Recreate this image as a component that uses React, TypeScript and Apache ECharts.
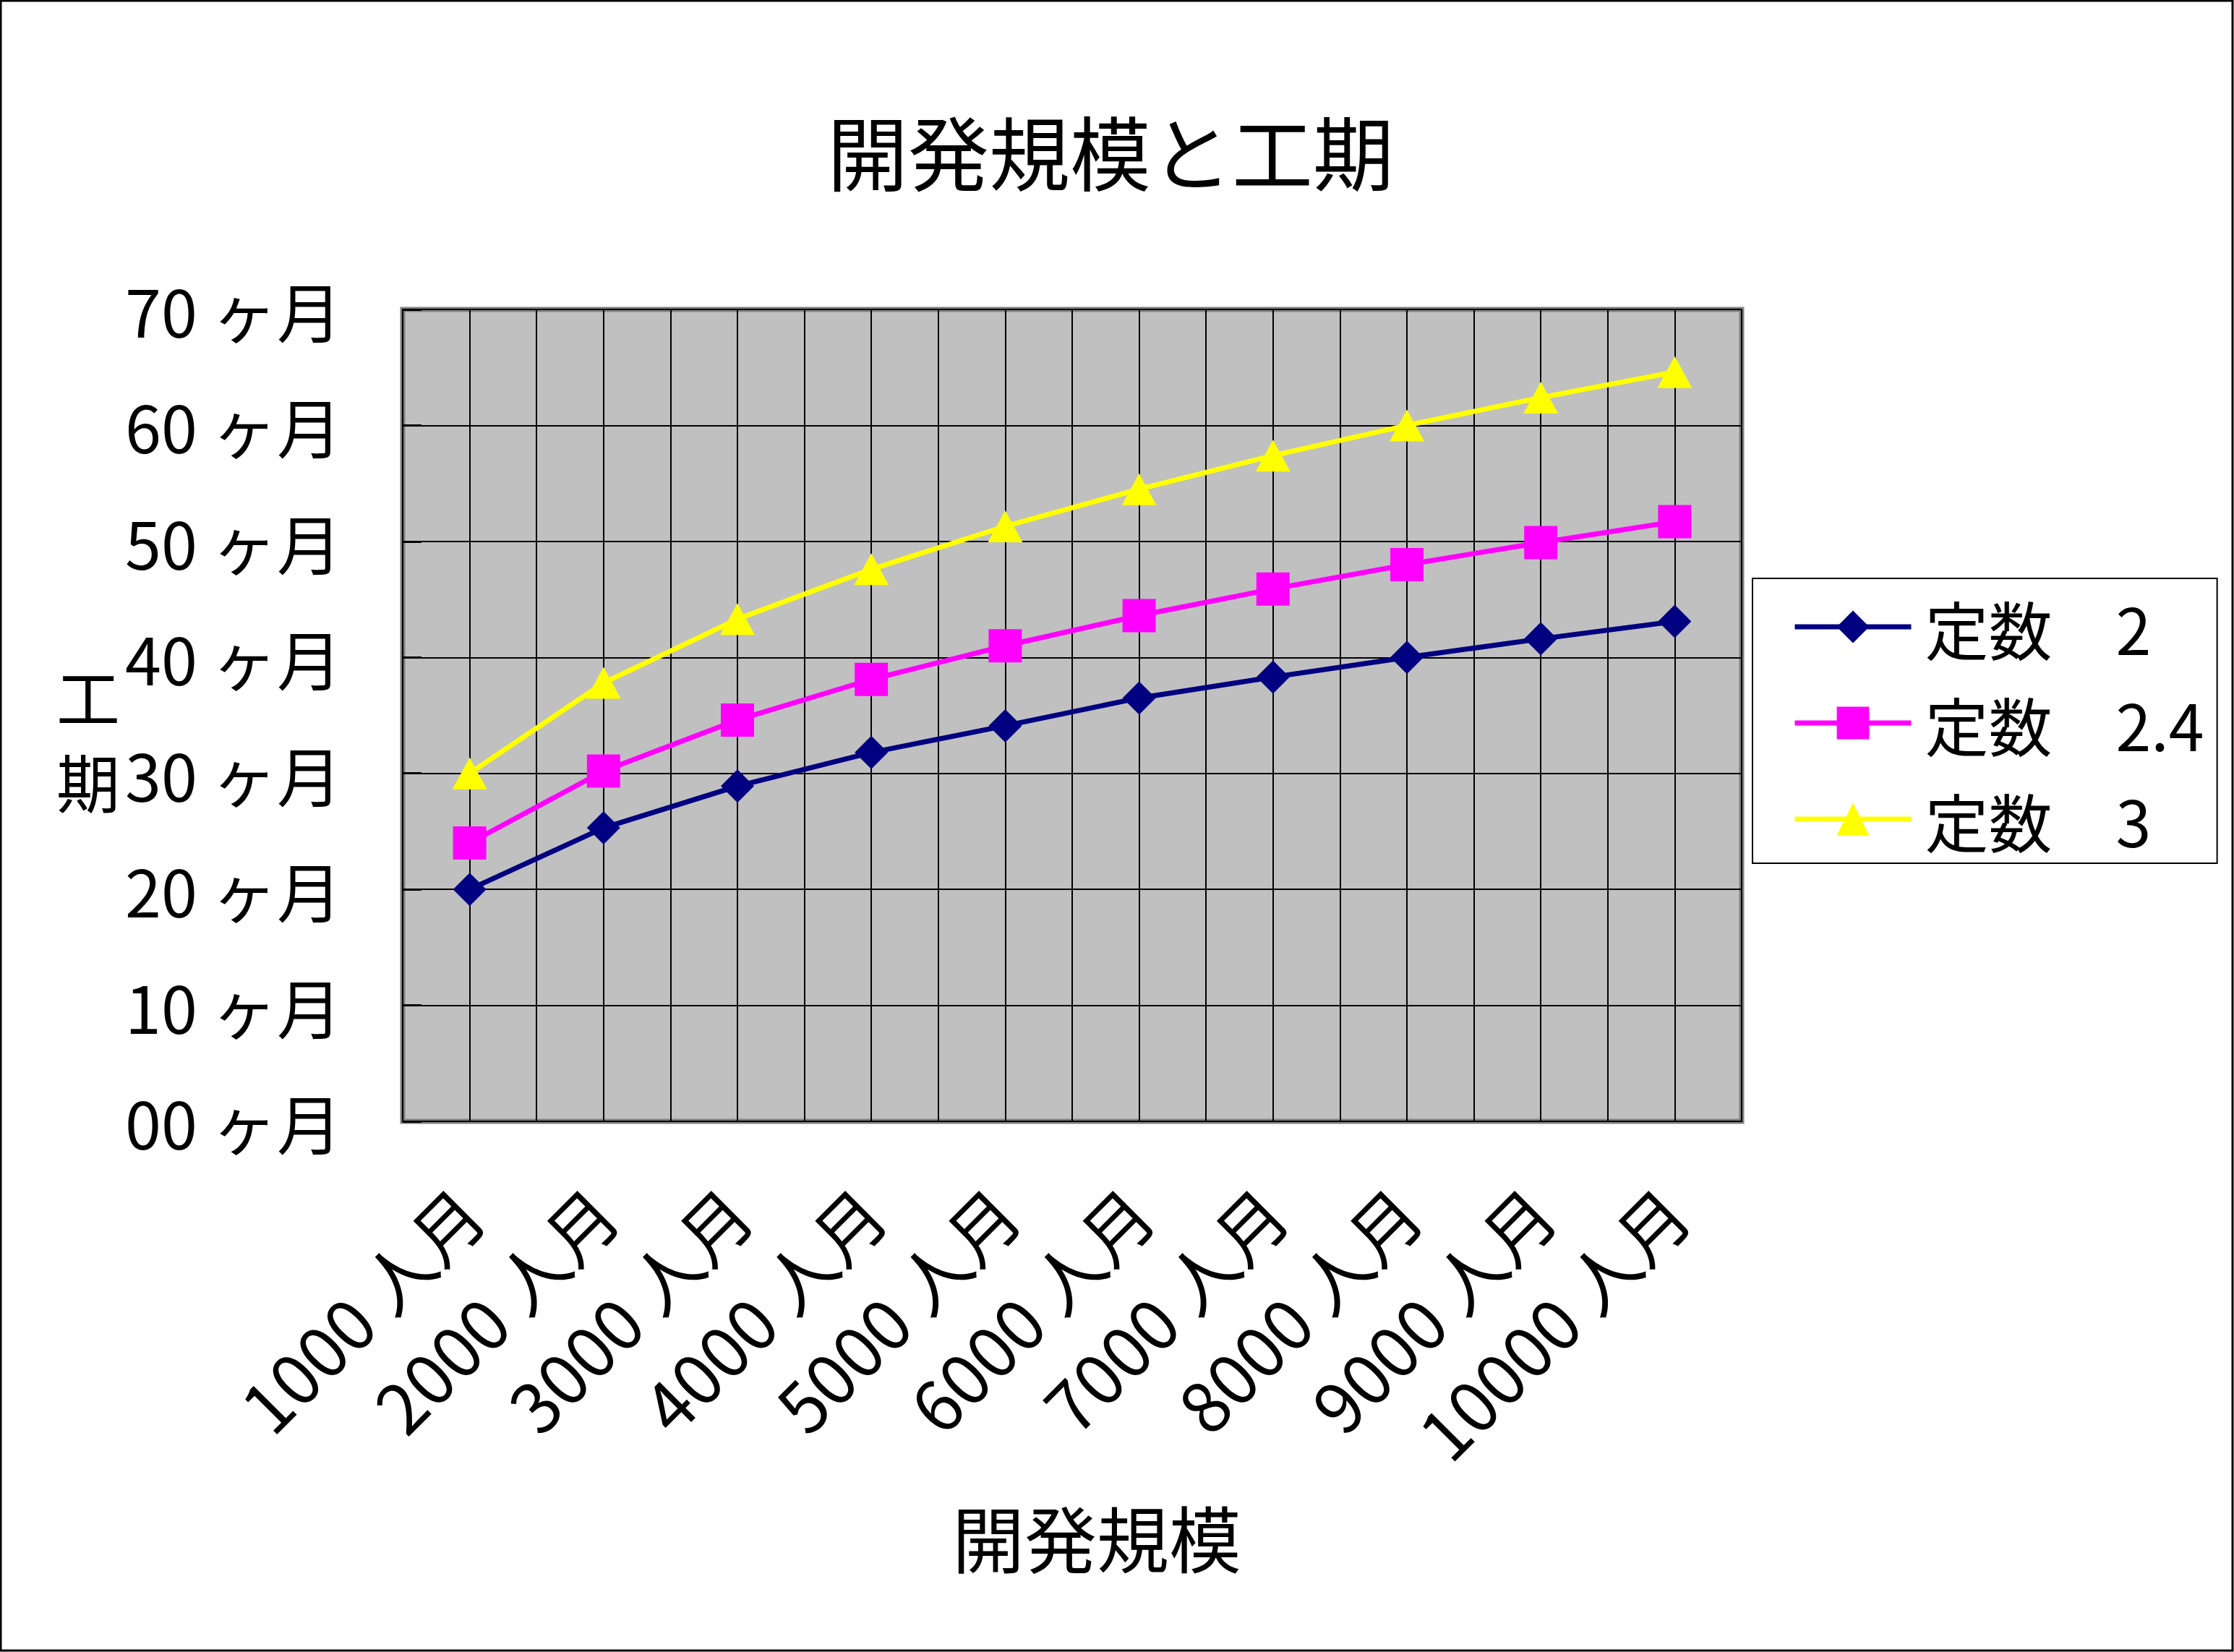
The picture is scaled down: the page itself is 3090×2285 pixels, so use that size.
import React, { useEffect, useRef } from "react";
import * as echarts from "echarts";

const categories = ["1000 人月", "2000 人月", "3000 人月", "4000 人月", "5000 人月", "6000 人月", "7000 人月", "8000 人月", "9000 人月", "10000 人月"];
const seriesNames = ["定数　2", "定数　2.4", "定数　3"];
const const2 = [20.0, 25.3, 28.9, 31.8, 34.1, 36.5, 38.3, 40.0, 41.6, 43.1];
const const24 = [24.0, 30.2, 34.6, 38.1, 41.0, 43.6, 45.9, 48.0, 49.9, 51.7];
const const3 = [30.0, 37.8, 43.3, 47.6, 51.3, 54.5, 57.4, 60.0, 62.4, 64.6];
const yTickLabels = ["00 ヶ月", "10 ヶ月", "20 ヶ月", "30 ヶ月", "40 ヶ月", "50 ヶ月", "60 ヶ月", "70 ヶ月"];
const titleText = "開発規模と工期";
const xName = "開発規模";
const yName = "工\n期";

const FONT = '"Noto Sans CJK JP", "Noto Sans", sans-serif';

export default function App() {
  const ref = useRef<HTMLDivElement>(null);
  useEffect(() => {
    if (!ref.current) return;
    const chart = echarts.init(ref.current, undefined, { renderer: "svg" });
    const colors = ["#000080", "#FF00FF", "#FFFF00"];
    const symbols = ["diamond", "rect", "triangle"];
    const datas = [const2, const24, const3];
    chart.setOption({
      animation: false,
      backgroundColor: "#ffffff",
      textStyle: { fontFamily: FONT, color: "#000" },
      title: {
        text: titleText,
        left: 1531,
        top: 146,
        textAlign: "center",
        textStyle: { fontFamily: FONT, fontSize: 112, fontWeight: "normal", color: "#000" },
      },
      legend: {
        orient: "vertical",
        left: 2424,
        top: 800,
        padding: [23, 18, 17, 55],
        itemGap: 45,
        itemWidth: 161,
        itemHeight: 56,
        borderColor: "#000",
        borderWidth: 2,
        backgroundColor: "#fff",
        data: seriesNames,
        lineStyle: { width: 7 },
        textStyle: { fontFamily: FONT, fontSize: 88, lineHeight: 88, color: "#000", padding: [0, 0, 0, 14] },
      },
      grid: {
        left: 557,
        right: 681,
        top: 428,
        bottom: 734,
        show: true,
        backgroundColor: "#C0C0C0",
        borderColor: "#808080",
        borderWidth: 7,
        containLabel: false,
        outerBoundsMode: "none",
      },
      xAxis: [
        {
          type: "category",
          data: categories,
          boundaryGap: true,
          axisLine: { show: true, lineStyle: { color: "#000", width: 2 } },
          axisTick: { show: false },
          splitLine: { show: false },
          axisLabel: {
            interval: 0,
            rotate: 45,
            margin: 108,
            verticalAlign: "middle",
            fontFamily: FONT,
            fontSize: 96,
            color: "#000",
          },
        },
        {
          type: "value",
          min: 0,
          max: 10,
          interval: 0.5,
          position: "bottom",
          axisLine: { show: false },
          axisTick: { show: false },
          axisLabel: { show: false },
          splitLine: { show: true, lineStyle: { color: "#000", width: 2 } },
        },
      ],
      yAxis: {
        type: "value",
        min: 0,
        max: 70,
        interval: 10,
        axisLine: { show: true, lineStyle: { color: "#000", width: 2 } },
        axisTick: { show: true, inside: true, length: 26, lineStyle: { color: "#000", width: 3 } },
        splitLine: { show: true, lineStyle: { color: "#000", width: 2 } },
        axisLabel: {
          margin: 84,
          fontFamily: FONT,
          fontSize: 90,
          color: "#000",
          formatter: (v: number) => yTickLabels[Math.round(v / 10)],
        },
      },
      series: seriesNames.map((name, i) => ({
        name,
        type: "line",
        xAxisIndex: 0,
        data: datas[i],
        symbol: symbols[i],
        symbolSize: i === 2 ? [48, 44] : 46,
        showSymbol: true,
        lineStyle: { color: colors[i], width: 7 },
        itemStyle: { color: colors[i], borderWidth: 0 },
        emphasis: { disabled: true },
        z: 3 + i,
      })),
      graphic: [
        {
          type: "rect",
          shape: { x: 1, y: 1, width: 3087, height: 2282 },
          style: { fill: "none", stroke: "#000", lineWidth: 3 },
          silent: true,
        },
        {
          type: "text",
          x: 122,
          y: 1019,
          style: {
            text: yName,
            fontFamily: FONT,
            fontSize: 88,
            lineHeight: 118,
            fill: "#000",
            align: "center",
            verticalAlign: "middle",
          },
        },
        {
          type: "text",
          x: 1517,
          y: 2124,
          style: {
            text: xName,
            fontFamily: FONT,
            fontSize: 100,
            fill: "#000",
            align: "center",
            verticalAlign: "middle",
          },
        },
      ],
    });
    return () => chart.dispose();
  }, []);
  return (
    <div
      ref={ref}
      style={{ position: "absolute", left: 0, top: 0, width: 3090, height: 2285, background: "#fff" }}
    />
  );
}
